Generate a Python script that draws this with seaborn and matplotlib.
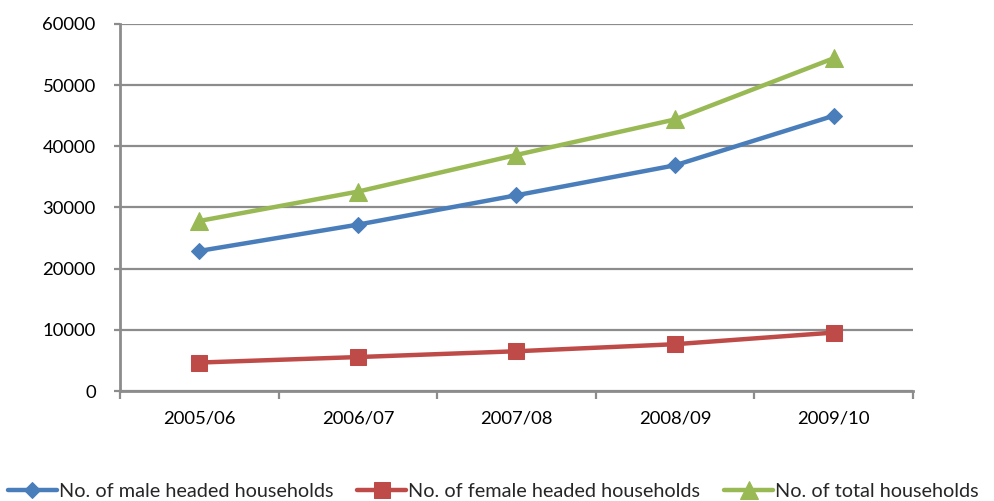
import matplotlib
matplotlib.use("Agg")
import matplotlib.pyplot as plt
import seaborn as sns
import pandas as pd
import numpy as np

# Household counts by financial year
years = ["2005/06", "2006/07", "2007/08", "2008/09", "2009/10"]
male_headed = [22900, 27200, 32000, 36900, 45000]
female_headed = [4650, 5550, 6500, 7650, 9550]
total_households = [27800, 32600, 38600, 44400, 54400]

series_names = [
    "No. of male headed households",
    "No. of female headed households",
    "No. of total households",
]
series_values = [male_headed, female_headed, total_households]
series_colors = ["#4A7EBB", "#BE4B48", "#98B954"]
series_markers = ["D", "s", "^"]
marker_sizes = [8.5, 12, 12.5]

yticks = [0, 10000, 20000, 30000, 40000, 50000, 60000]

sns.set_theme(style="white")
plt.rcParams["font.family"] = ["Lato", "DejaVu Sans"]

fig = plt.figure(figsize=(9.95, 5.01), dpi=100)
ax = fig.add_axes([120 / 995, 1 - 391 / 501, (913 - 120) / 995, (391 - 24) / 501])

frames = []
for name, vals in zip(series_names, series_values):
    frames.append(pd.DataFrame({"pos": np.arange(len(years)), "value": vals, "series": name}))
df = pd.concat(frames, ignore_index=True)

for name, color, marker, ms in zip(series_names, series_colors, series_markers, marker_sizes):
    sub = df[df["series"] == name]
    sns.lineplot(
        data=sub, x="pos", y="value", ax=ax, color=color, linewidth=3.2,
        marker=marker, markersize=ms, markeredgecolor=color, label=name,
    )

grid_color = "#8C8C8C"
ax.set_xlim(-0.5, len(years) - 0.5)
ax.set_ylim(0, 60000)
ax.set_yticks(yticks)
ax.set_yticklabels([str(v) for v in yticks])
ax.set_xticks(np.arange(len(years)))
ax.set_xticklabels(years)
ax.set_xticks(np.arange(-0.5, len(years)), minor=True)

ax.yaxis.grid(True, color=grid_color, linewidth=1.6)
ax.xaxis.grid(False)
ax.set_axisbelow(True)

for side in ["top", "right"]:
    ax.spines[side].set_visible(False)
for side in ["left", "bottom"]:
    ax.spines[side].set_color(grid_color)
    ax.spines[side].set_linewidth(2)

ax.tick_params(axis="y", which="major", left=True, length=4.5, width=1.6, color=grid_color,
               pad=13, labelsize=13.3, labelcolor="black")
ax.tick_params(axis="x", which="major", bottom=False, length=0, pad=14, labelsize=13.3,
               labelcolor="black")
ax.tick_params(axis="x", which="minor", bottom=True, length=5.5, width=1.6, color=grid_color)

ax.set_xlabel("")
ax.set_ylabel("")

ax.legend_.remove()
handles, labels = ax.get_legend_handles_labels()
fig.legend(
    handles, labels, loc="lower left", bbox_to_anchor=(0.0, -0.014), ncol=3,
    frameon=False, fontsize=14.3, handlelength=2.45, handletextpad=0.12,
    columnspacing=1.2, borderaxespad=0.2, borderpad=0.2,
)

fig.savefig("out.png", dpi=100)
